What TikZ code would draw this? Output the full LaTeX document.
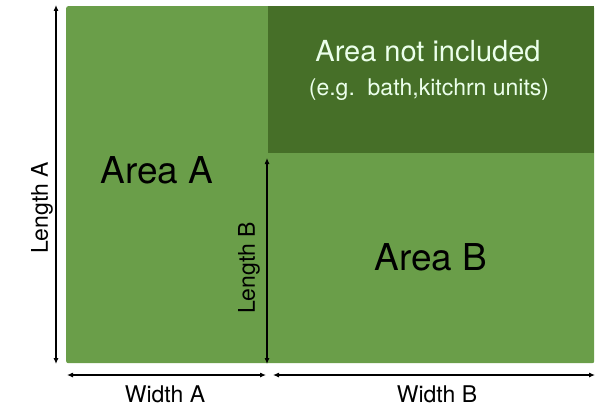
\documentclass[tikz,border=0pt]{standalone}
\usepackage{fontspec}
\setmainfont{TeX Gyre Heros}
\usetikzlibrary{arrows.meta}
\definecolor{lightgr}{HTML}{6A9E49}
\definecolor{darkgr}{HTML}{466F28}
\tikzset{
  dim/.style={line width=1.1pt,{Latex[length=6pt,width=5pt]}-{Latex[length=6pt,width=5pt]}},
  lbl/.style={font=\fontsize{23}{25}\selectfont,inner sep=0pt},
  big/.style={font=\fontsize{37}{40}\selectfont,inner sep=0pt}
}
\begin{document}
\begin{tikzpicture}[x=1pt,y=1pt]
\useasboundingbox (0,0) rectangle (612,408);
\node[fill=lightgr,rounded corners=2pt,minimum width=528pt,minimum height=357pt,inner sep=0pt,anchor=north west] (whole) at (66,402) {};
\node[fill=darkgr,minimum width=326pt,minimum height=147pt,inner sep=0pt,anchor=north east] (excl) at (594,402) {};
\node[big] (areaA) at (157,238) {Area A};
\node[big] (areaB) at (431,151) {Area B};
\node[font=\fontsize{29}{31}\selectfont,text=white!92!green,inner sep=0pt] (ani) at (428,357) {Area not included};
\node[font=\fontsize{23}{25}\selectfont,text=white!92!green,inner sep=0pt] (eg) at (429,318) {(e.g.\ \ bath,kitchrn units)};
\coordinate (la1) at (56,403);
\coordinate (la2) at (56,44);
\coordinate (lb1) at (267,250);
\coordinate (lb2) at (267,44);
\coordinate (wa1) at (67,33);
\coordinate (wa2) at (266,33);
\coordinate (wb1) at (273,33);
\coordinate (wb2) at (595,33);
\draw[dim] (la2) -- (la1);
\draw[dim] (lb2) -- (lb1);
\draw[dim] (wa1) -- (wa2);
\draw[dim] (wb1) -- (wb2);
\node[lbl,rotate=90] (lenA) at (42,200) {Length A};
\node[lbl,rotate=90] (lenB) at (249,140) {Length B};
\node[lbl] (widA) at (165,14) {Width A};
\node[lbl] (widB) at (437,14) {Width B};
\end{tikzpicture}
\end{document}
